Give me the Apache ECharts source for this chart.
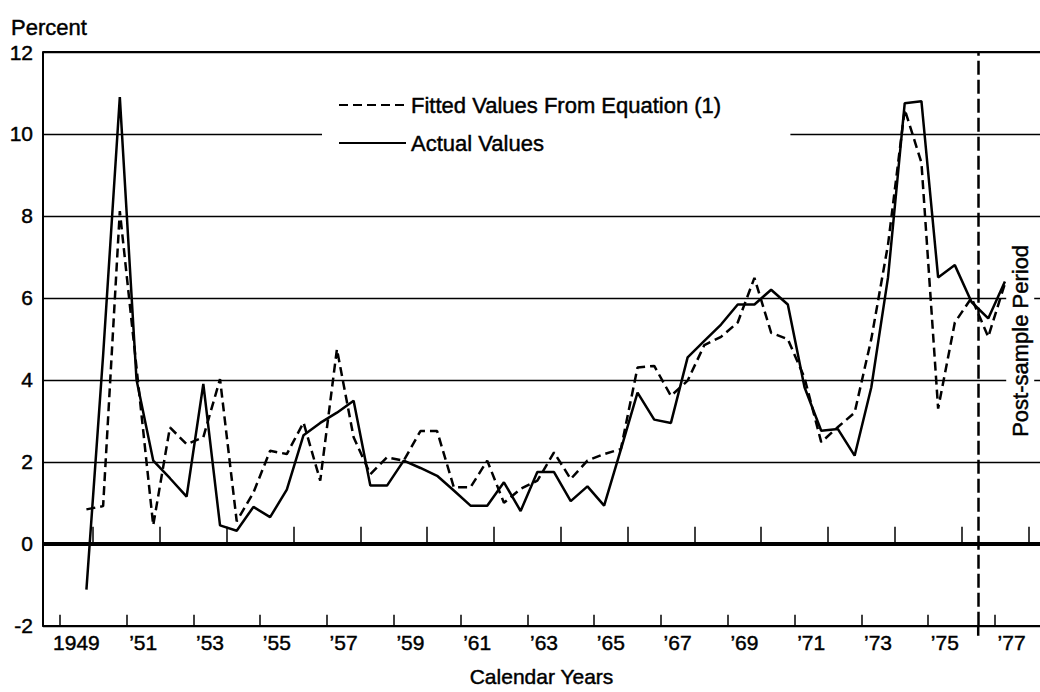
<!DOCTYPE html>
<html>
<head>
<meta charset="utf-8">
<script src="https://cdn.jsdelivr.net/npm/echarts@6/dist/echarts.min.js"></script>
<style>
html, body { margin: 0; padding: 0; background: #ffffff; }
#chart { width: 1040px; height: 692px; }
</style>
</head>
<body>
<div id="chart"></div>
<script>
// Half-year periods (time in years, as plotted)
const periods = [
  1949.8,
  1950.3, 1950.8, 1951.3, 1951.8, 1952.3, 1952.8, 1953.3, 1953.8, 1954.3, 1954.8,
  1955.3, 1955.8, 1956.3, 1956.8, 1957.3, 1957.8, 1958.3, 1958.8, 1959.3, 1959.8,
  1960.3, 1960.8, 1961.3, 1961.8, 1962.3, 1962.8, 1963.3, 1963.8, 1964.3, 1964.8,
  1965.3, 1965.8, 1966.3, 1966.8, 1967.3, 1967.8, 1968.3, 1968.8, 1969.3, 1969.8,
  1970.3, 1970.8, 1971.3, 1971.8, 1972.3, 1972.8, 1973.3, 1973.8, 1974.3, 1974.8,
  1975.3, 1975.8, 1976.3, 1976.8, 1977.3
];

// Actual values (percent)
const actualValues = [
  -1.12,
  4.6, 10.9, 4.0, 2.03, 1.6, 1.15, 3.9, 0.45, 0.32, 0.9,
  0.65, 1.32, 2.65, 2.95, 3.2, 3.49, 1.42, 1.42, 2.03, 1.85,
  1.66, 1.3, 0.93, 0.93, 1.5, 0.8, 1.75, 1.75, 1.04, 1.4,
  0.93, 2.3, 3.69, 3.03, 2.95, 4.55, 4.95, 5.35, 5.84, 5.84,
  6.2, 5.84, 3.82, 2.76, 2.8, 2.15, 3.82, 6.5, 10.75, 10.8,
  6.5, 6.8, 5.9, 5.5, 6.4
];

// Fitted values from equation (1)
const fittedValues = [
  0.84,
  0.92, 8.12, 4.3, 0.45, 2.84, 2.43, 2.6, 4.02, 0.55, 1.25,
  2.27, 2.19, 2.96, 1.54, 4.75, 2.6, 1.7, 2.11, 2.03, 2.75,
  2.75, 1.38, 1.38, 2.03, 1.0, 1.34, 1.54, 2.23, 1.58, 2.03,
  2.19, 2.31, 4.3, 4.34, 3.61, 3.98, 4.85, 5.05, 5.4, 6.49,
  5.15, 4.99, 4.05, 2.48, 2.85, 3.2, 5.0, 7.3, 10.6, 9.3,
  3.3, 5.4, 6.0, 5.05, 6.35
];

// Year boundary ticks and year labels
const yearTicks = [1949, 1950, 1951, 1952, 1953, 1954, 1955, 1956, 1957, 1958, 1959, 1960,
  1961, 1962, 1963, 1964, 1965, 1966, 1967, 1968, 1969, 1970, 1971, 1972, 1973, 1974,
  1975, 1976, 1977, 1978];
const labelYears = [1949, 1951, 1953, 1955, 1957, 1959, 1961, 1963, 1965, 1967, 1969,
  1971, 1973, 1975, 1977];
const tickLabels = ['1949', '\u201951', '\u201953', '\u201955', '\u201957', '\u201959', '\u201961',
  '\u201963', '\u201965', '\u201967', '\u201969', '\u201971', '\u201973', '\u201975', '\u201977'];
const postSampleStart = 1976.5;

const FONT = '"Liberation Sans", Arial, Helvetica, sans-serif';
const X_MIN = 1948.5, X_MAX = 1978.35;
const INK = { textBorderColor: '#000', textBorderWidth: 0.45 };

const oddTicks = yearTicks.filter(function (y) { return y % 2 === 1; });
const evenTicks = yearTicks.filter(function (y) { return y % 2 === 0; });
const labelPositions = labelYears.map(function (y) { return y + 0.5; });

function pairs(vals) { return periods.map(function (p, i) { return [p, vals[i]]; }); }

const chart = echarts.init(document.getElementById('chart'), null, { renderer: 'svg' });

const option = {
  animation: false,
  backgroundColor: '#ffffff',
  textStyle: { fontFamily: FONT, color: '#000' },
  title: {
    text: 'Percent', left: 6, top: 11,
    textStyle: Object.assign({ fontFamily: FONT, fontSize: 22, fontWeight: 'normal', color: '#000' }, INK)
  },
  grid: { left: 43, right: 0, top: 52, bottom: 65, containLabel: false },
  legend: {
    orient: 'vertical',
    left: 322, top: 86,
    backgroundColor: '#ffffff',
    padding: [6, 69, 6, 16],
    itemWidth: 67, itemHeight: 14, itemGap: 12,
    itemStyle: { opacity: 0 },
    textStyle: Object.assign({ fontFamily: FONT, fontSize: 22, color: '#000', lineHeight: 26 }, INK),
    data: ['Fitted Values From Equation (1)', 'Actual Values']
  },
  xAxis: [
    {
      type: 'value', min: X_MIN, max: X_MAX, position: 'bottom',
      name: 'Calendar Years', nameLocation: 'middle', nameGap: 40,
      nameTextStyle: Object.assign({ fontFamily: FONT, fontSize: 21, color: '#000' }, INK),
      axisLine: { show: true, onZero: false, lineStyle: { color: '#000', width: 2 } },
      axisTick: { show: true, inside: true, length: 11, customValues: oddTicks, lineStyle: { color: '#000', width: 1.5 } },
      axisLabel: Object.assign({
        show: true, margin: 6, customValues: labelPositions,
        fontFamily: FONT, fontSize: 21, color: '#000',
        formatter: function (v) {
          const idx = labelPositions.findIndex(function (p) { return Math.abs(p - v) < 1e-6; });
          return idx >= 0 ? tickLabels[idx] : '';
        }
      }, INK),
      splitLine: { show: false }
    },
    {
      type: 'value', min: X_MIN, max: X_MAX, position: 'bottom', offset: 0,
      axisLine: { show: false },
      axisTick: { show: true, inside: true, length: 17, customValues: evenTicks, lineStyle: { color: '#000', width: 1.5 } },
      axisLabel: { show: false },
      splitLine: { show: false }
    }
  ],
  yAxis: {
    type: 'value', min: -2, max: 12, interval: 2,
    axisLine: { show: true, onZero: false, lineStyle: { color: '#000', width: 2 } },
    axisTick: { show: false },
    axisLabel: Object.assign({ fontFamily: FONT, fontSize: 21, color: '#000', margin: 10 }, INK),
    splitLine: { show: true, lineStyle: { color: '#000', width: 1.3 } }
  },
  series: [
    {
      name: 'Fitted Values From Equation (1)', type: 'line',
      data: pairs(fittedValues), symbol: 'none', showSymbol: false, z: 3,
      lineStyle: { color: '#000', width: 2.5, type: [9, 5] },
      itemStyle: { color: '#000' }
    },
    {
      name: 'Actual Values', type: 'line',
      data: pairs(actualValues), symbol: 'none', showSymbol: false, z: 4,
      lineStyle: { color: '#000', width: 2.5, type: 'solid' },
      itemStyle: { color: '#000' },
      markLine: {
        silent: true, symbol: ['none', 'none'], label: { show: false },
        data: [
          { yAxis: 0, lineStyle: { color: '#000', width: 4, type: 'solid' } },
          { yAxis: 12, lineStyle: { color: '#000', width: 2, type: 'solid' } },
          { xAxis: postSampleStart, lineStyle: { color: '#000', width: 2.5, type: [14, 5] } }
        ]
      }
    }
  ]
};

chart.setOption(option);

// Annotation placed through the chart's own scales
const px = chart.convertToPixel({ xAxisIndex: 0 }, postSampleStart);
const yBottom = chart.convertToPixel({ yAxisIndex: 0 }, -2);
const yMid = chart.convertToPixel({ yAxisIndex: 0 }, 5);
chart.setOption({
  graphic: [
    {
      id: 'postText', type: 'text', x: px + 42, y: yMid + 2, rotation: Math.PI / 2, z: 10,
      style: Object.assign({
        text: 'Post-sample Period', font: '22px ' + FONT, fill: '#000',
        align: 'center', verticalAlign: 'middle',
        backgroundColor: '#ffffff', padding: [3, 6]
      }, { stroke: '#000', lineWidth: 0.45 })
    },
    {
      id: 'postTail', type: 'line', z: 10,
      shape: { x1: px, y1: yBottom, x2: px, y2: yBottom + 14 },
      style: { stroke: '#000', lineWidth: 2.5, lineDash: [10, 4] }
    }
  ]
});
</script>
</body>
</html>
